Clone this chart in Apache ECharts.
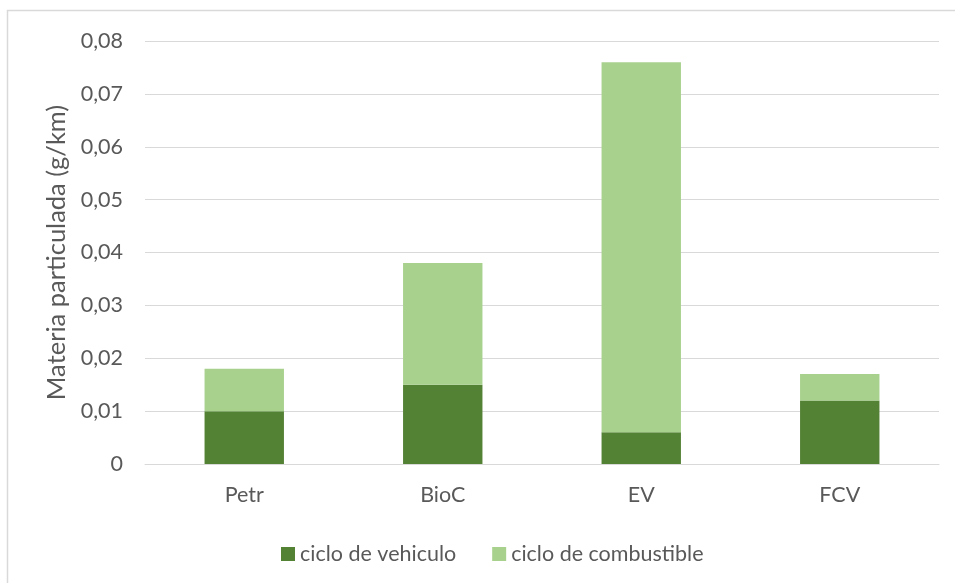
<!DOCTYPE html>
<html>
<head>
<meta charset="utf-8">
<script src="https://cdn.jsdelivr.net/npm/echarts@6/dist/echarts.min.js"></script>
<style>
html,body{margin:0;padding:0;background:#fff;}
#chart{width:955px;height:583px;}
</style>
</head>
<body>
<div id="chart"></div>
<script>
const categories = ['Petr', 'BioC', 'EV', 'FCV'];
const cicloVehiculo = [0.010, 0.015, 0.006, 0.012];
const cicloCombustible = [0.008, 0.023, 0.070, 0.005];
const seriesNames = ['ciclo de vehiculo', 'ciclo de combustible'];
const yAxisTitle = 'Materia particulada (g/km)';

const FONT = 'Lato';
const TXT = '#595959';
const chart = echarts.init(document.getElementById('chart'), null, {renderer: 'canvas'});
chart.setOption({
  animation: false,
  backgroundColor: '#ffffff',
  graphic: [{
    type: 'rect',
    shape: {x: 7.5, y: 10.5, width: 1000, height: 700},
    style: {fill: 'none', stroke: '#d9d9d9', lineWidth: 1.5},
    silent: true
  }],
  grid: {left: 145, right: 16, top: 41, bottom: 119, containLabel: false},
  legend: {
    data: seriesNames,
    left: 276,
    top: 538,
    icon: 'rect',
    itemWidth: 14,
    itemHeight: 14,
    itemGap: 36,
    textStyle: {fontFamily: FONT, fontSize: 21.5, color: TXT}
  },
  xAxis: {
    type: 'category',
    data: categories,
    axisLine: {show: true, lineStyle: {color: '#d9d9d9', width: 1}},
    axisTick: {show: false},
    axisLabel: {fontFamily: FONT, fontSize: 21.5, color: TXT, margin: 20}
  },
  yAxis: {
    type: 'value',
    min: 0,
    max: 0.08,
    interval: 0.01,
    name: yAxisTitle,
    nameLocation: 'middle',
    nameGap: 72,
    nameTextStyle: {fontFamily: FONT, fontSize: 25.5, color: TXT},
    axisLine: {show: false},
    axisTick: {show: false},
    splitLine: {lineStyle: {color: '#d9d9d9', width: 1}},
    axisLabel: {
      fontFamily: FONT, fontSize: 21.5, color: TXT, margin: 22,
      formatter: v => v === 0 ? '0' : v.toFixed(2).replace('.', ',')
    }
  },
  series: [
    {
      name: seriesNames[0], type: 'bar', stack: 'total', data: cicloVehiculo,
      barWidth: '40%',
      itemStyle: {color: '#548235'}
    },
    {
      name: seriesNames[1], type: 'bar', stack: 'total', data: cicloCombustible,
      barWidth: '40%',
      itemStyle: {color: '#a9d18e'}
    }
  ]
});
</script>
</body>
</html>
